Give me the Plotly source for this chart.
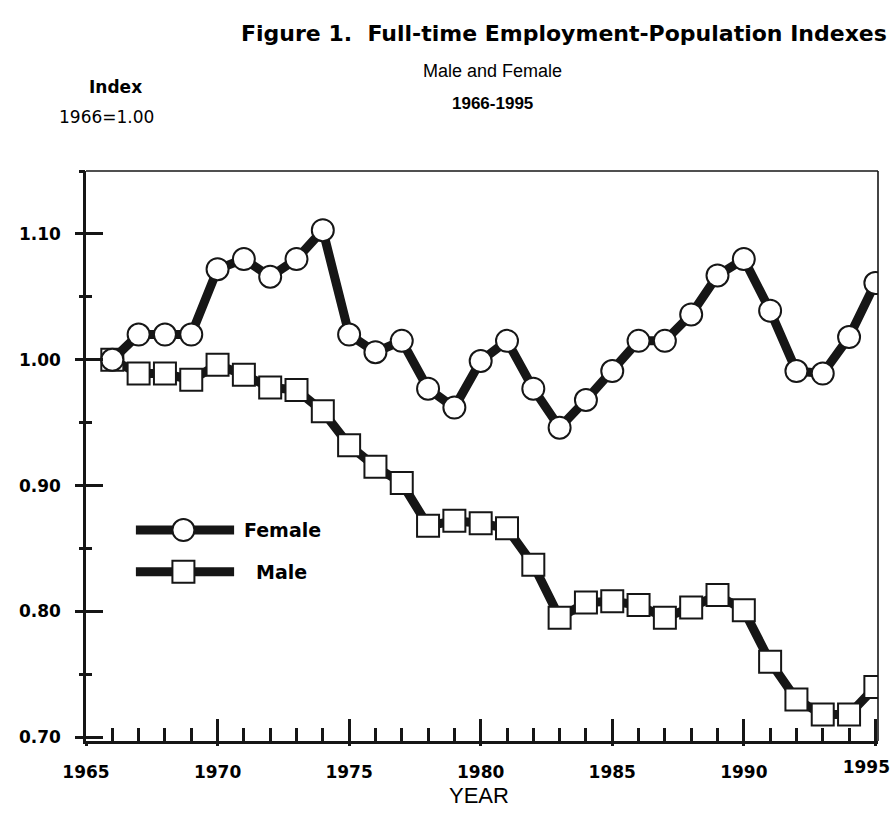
import plotly.graph_objects as go

years = list(range(1966, 1996))
female = [1.000, 1.020, 1.020, 1.020, 1.072, 1.080, 1.066, 1.080, 1.103, 1.020,
          1.006, 1.015, 0.977, 0.962, 0.999, 1.015, 0.977, 0.946, 0.968, 0.991,
          1.015, 1.015, 1.036, 1.067, 1.080, 1.039, 0.991, 0.989, 1.018, 1.061]
male = [1.000, 0.989, 0.989, 0.984, 0.996, 0.988, 0.978, 0.976, 0.959, 0.932,
        0.915, 0.902, 0.868, 0.872, 0.870, 0.866, 0.837, 0.795, 0.807, 0.808,
        0.805, 0.795, 0.803, 0.813, 0.801, 0.760, 0.730, 0.718, 0.718, 0.740]
x_ticks = [1965, 1970, 1975, 1980, 1985, 1990, 1995]
x_labels = [str(v) for v in x_ticks]
y_ticks = [0.70, 0.80, 0.90, 1.00, 1.10]

INK = "#161616"
ARIAL = "Liberation Sans, Arial, sans-serif"
WIDE = "DejaVu Sans, Verdana, sans-serif"

fig = go.Figure()
fig.add_trace(go.Scatter(
    x=years, y=male, mode="lines+markers", name="Male",
    line=dict(color=INK, width=9),
    marker=dict(symbol="square", size=22, color="white", line=dict(color=INK, width=2)),
    showlegend=False, hoverinfo="skip"))
fig.add_trace(go.Scatter(
    x=years, y=female, mode="lines+markers", name="Female",
    line=dict(color=INK, width=9),
    marker=dict(symbol="circle", size=22, color="white", line=dict(color=INK, width=2)),
    showlegend=False, hoverinfo="skip"))
# invisible helper traces so the overlay axes (outer tick parts, last label) are drawn
for xa in ("x2", "x3"):
    fig.add_trace(go.Scatter(x=[years[0]], y=[female[0]], xaxis=xa, yaxis="y2",
                             mode="markers", marker=dict(opacity=0), showlegend=False,
                             hoverinfo="skip"))

xr = [1965, 1995.1]
yr = [0.697, 1.15]
tickfont = dict(family=WIDE, size=17, color="black", weight="bold")

fig.update_layout(
    width=893, height=829,
    margin=dict(l=86, r=15, t=171, b=88),
    paper_bgcolor="white", plot_bgcolor="white",
    font=dict(family=ARIAL, color="black"),
    xaxis=dict(range=xr, tickvals=x_ticks, ticktext=x_labels[:-1] + [""],
               showgrid=False, zeroline=False, showline=True, linecolor=INK, linewidth=2.5,
               ticks="inside", ticklen=22, tickwidth=2.5, tickcolor=INK,
               minor=dict(dtick=1, tick0=1965, ticks="inside", ticklen=13, tickwidth=2.5, tickcolor=INK),
               tickfont=tickfont, ticklabelstandoff=14, automargin=False),
    yaxis=dict(range=yr, tickvals=y_ticks, ticktext=[f"{v:.2f}" for v in y_ticks],
               showgrid=False, zeroline=False, showline=True, linecolor=INK, linewidth=2.5,
               ticks="inside", ticklen=17, tickwidth=2.5, tickcolor=INK,
               minor=dict(dtick=0.05, tick0=0.70, ticks="inside", ticklen=6, tickwidth=2.5, tickcolor=INK),
               tickfont=tickfont, ticklabelstandoff=19, automargin=False),
    xaxis2=dict(range=xr, overlaying="x", anchor="y2", side="bottom", matches="x",
                tickvals=x_ticks, showticklabels=False, showgrid=False, zeroline=False,
                showline=False, ticks="outside", ticklen=4, tickwidth=2.5, tickcolor=INK,
                automargin=False),
    # last year label, nudged left so it stays inside the page (as in the original)
    xaxis3=dict(range=xr, overlaying="x", anchor="y2", side="bottom", matches="x",
                tickvals=x_ticks[-1:], ticktext=x_labels[-1:], showgrid=False, zeroline=False,
                showline=False, ticks="", tickfont=tickfont, ticklabelstandoff=14,
                ticklabelshift=-9, ticklabeloverflow="allow", automargin=False),
    yaxis2=dict(range=yr, overlaying="y", anchor="x2", side="left", matches="y",
                tickvals=y_ticks, showticklabels=False, showgrid=False, zeroline=False,
                showline=False, ticks="outside", ticklen=10, tickwidth=2.5, tickcolor=INK,
                minor=dict(dtick=0.05, tick0=0.70, ticks="outside", ticklen=6, tickwidth=2.5, tickcolor=INK),
                automargin=False),
)

LEG_F, LEG_M = 0.370, 0.297
shapes = [
    # top and right frame
    dict(type="line", xref="paper", yref="paper", x0=0, x1=1, y0=1, y1=1,
         line=dict(color=INK, width=1.6)),
    dict(type="line", xref="paper", yref="paper", x0=1, x1=1, y0=0, y1=1,
         line=dict(color=INK, width=1.6)),
    # legend lines
    dict(type="line", xref="paper", yref="paper", x0=0.063, x1=0.187, y0=LEG_F, y1=LEG_F,
         line=dict(color=INK, width=9)),
    dict(type="line", xref="paper", yref="paper", x0=0.063, x1=0.187, y0=LEG_M, y1=LEG_M,
         line=dict(color=INK, width=9)),
    dict(type="circle", xref="paper", yref="paper", xsizemode="pixel", ysizemode="pixel",
         xanchor=0.123, yanchor=LEG_F, x0=-11, x1=11, y0=-11, y1=11,
         fillcolor="white", line=dict(color=INK, width=2)),
    dict(type="rect", xref="paper", yref="paper", xsizemode="pixel", ysizemode="pixel",
         xanchor=0.123, yanchor=LEG_M, x0=-11, x1=11, y0=-11, y1=11,
         fillcolor="white", line=dict(color=INK, width=2)),
]
fig.update_layout(shapes=shapes)

ann = [
    dict(text="Figure 1.  Full-time Employment-Population Indexes", x=889, y=34,
         xanchor="right", font=dict(family=WIDE, size=22, weight="bold")),
    dict(text="Male and Female", x=493, y=71, xanchor="center", font=dict(size=18)),
    dict(text="1966-1995", x=492, y=103, xanchor="center", font=dict(size=17, weight="bold")),
    dict(text="Index", x=115, y=87, xanchor="center", font=dict(family=WIDE, size=17, weight="bold")),
    dict(text="1966=1.00", x=106, y=117, xanchor="center", font=dict(family=WIDE, size=17)),
    dict(text="YEAR", x=479, y=795, xanchor="center", font=dict(size=22)),
]
annotations = []
for a in ann:
    f = dict(family=ARIAL, color="black")
    f.update(a.pop("font"))
    annotations.append(dict(xref="paper", yref="paper", x=(a.pop("x") - 86) / 792,
                            y=(741 - a.pop("y")) / 570, yanchor="middle",
                            showarrow=False, font=f, **a))
legfont = dict(family=WIDE, size=19, color="black", weight="bold")
annotations += [
    dict(text="Female", xref="paper", yref="paper", x=0.197, y=LEG_F, xanchor="left",
         yanchor="middle", showarrow=False, font=legfont),
    dict(text="Male", xref="paper", yref="paper", x=0.212, y=LEG_M, xanchor="left",
         yanchor="middle", showarrow=False, font=legfont),
]
fig.update_layout(annotations=annotations)

fig.write_html("out.html",
               config={"displayModeBar": False},
               post_script="document.body.style.margin='0';document.body.style.overflow='hidden';")
